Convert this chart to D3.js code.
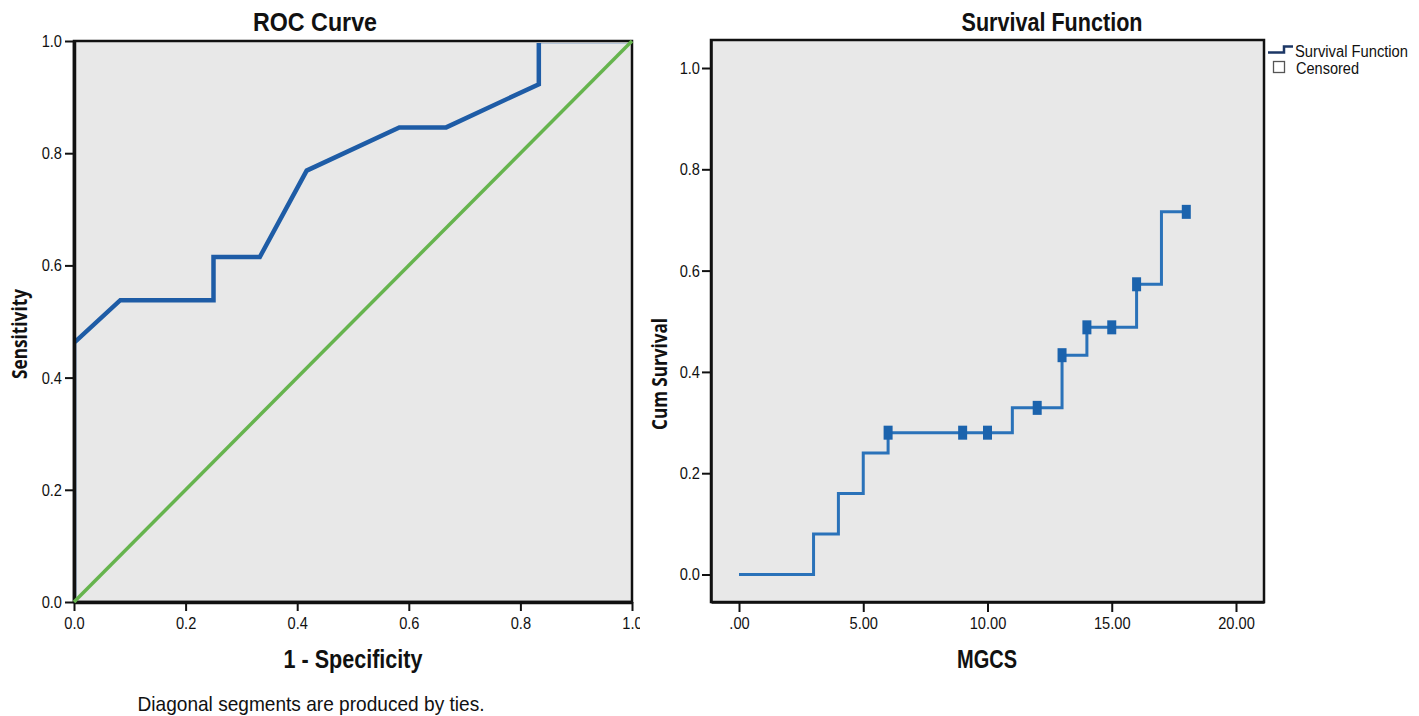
<!DOCTYPE html>
<html>
<head>
<meta charset="utf-8">
<script src="https://cdn.jsdelivr.net/npm/d3@7"></script>
<style>
  html, body { margin: 0; padding: 0; background: #fff; }
  svg { display: block; }
  .nar { font-family: "Liberation Sans Narrow", "Arial Narrow", "Liberation Sans", Arial, sans-serif; }
  .wide { font-family: "Open Sans", "Liberation Sans", Arial, sans-serif; }
</style>
</head>
<body>
<svg id="chart" width="1419" height="716"></svg>
<script>
// ---------- DATA ----------
// ROC curve
const rocFpr = [0, 0, 0.083, 0.25, 0.25, 0.333, 0.417, 0.583, 0.667, 0.833, 0.833, 1];
const rocTpr = [0, 0.462, 0.538, 0.538, 0.615, 0.615, 0.769, 0.846, 0.846, 0.923, 1, 1];
const rocRefX = [0, 1];
const rocRefY = [0, 1];
const rocTicks = [0, 0.2, 0.4, 0.6, 0.8, 1.0];

// Survival function (step) – MGCS
const survTime = [0, 3, 4, 5, 6, 11, 13, 14, 16, 17, 18];
const survCum  = [0, 0.08, 0.16, 0.24, 0.28, 0.329, 0.433, 0.488, 0.573, 0.716, 0.716];
const censTime = [6, 9, 10, 12, 13, 14, 15, 16, 18];
const censCum  = [0.28, 0.28, 0.28, 0.329, 0.433, 0.488, 0.488, 0.573, 0.716];
const survXTicks = [0, 5, 10, 15, 20];
const survXTickLabels = [".00", "5.00", "10.00", "15.00", "20.00"];
const survYTicks = [0, 0.2, 0.4, 0.6, 0.8, 1.0];
const legendLabels = ["Survival Function", "Censored"];

// ---------- HELPERS ----------
// horizontally condense real text to a target width (or a factor of its natural width)
function fitWidth(sel, width) {
  sel.attr("textLength", width).attr("lengthAdjust", "spacingAndGlyphs");
}
function condense(sel, factor) {
  sel.each(function () {
    const w = this.getComputedTextLength();
    d3.select(this).attr("textLength", w * factor).attr("lengthAdjust", "spacingAndGlyphs");
  });
}

// ---------- DRAW ----------
const svg = d3.select("#chart");
const plotBg = "#e8e8e8";
const defs = svg.append("defs");

// ===== ROC panel =====
defs.append("clipPath").attr("id", "leftClip")
  .append("rect").attr("x", 0).attr("y", 0).attr("width", 640).attr("height", 716);

const left = svg.append("g").attr("clip-path", "url(#leftClip)");
const rx = d3.scaleLinear().domain([0, 1]).range([74, 632]);
const ry = d3.scaleLinear().domain([0, 1]).range([602, 41]);

defs.append("clipPath").attr("id", "rocInner")
  .append("rect").attr("x", rx(0) + 2).attr("y", ry(1) + 2)
  .attr("width", rx(1) - rx(0) - 2).attr("height", ry(0) - ry(1) - 2);

left.append("rect").attr("x", rx(0)).attr("y", ry(1))
  .attr("width", rx(1) - rx(0)).attr("height", ry(0) - ry(1)).attr("fill", plotBg);

const rocLine = d3.line().x(d => rx(d[0])).y(d => ry(d[1]));
left.append("path").datum(rocFpr.map((v, i) => [v, rocTpr[i]]))
  .attr("clip-path", "url(#rocInner)")
  .attr("d", rocLine).attr("fill", "none").attr("stroke", "#1e5ca6")
  .attr("stroke-width", 4.5).attr("stroke-linejoin", "miter");

// frame (top/right)
left.append("rect").attr("x", rx(0)).attr("y", ry(1))
  .attr("width", rx(1) - rx(0)).attr("height", ry(0) - ry(1))
  .attr("fill", "none").attr("stroke", "#111").attr("stroke-width", 2.5);

const rxAxis = left.append("g").attr("transform", `translate(0,${ry(0)})`)
  .call(d3.axisBottom(rx).tickValues(rocTicks).tickFormat(d3.format(".1f")).tickSize(9).tickSizeOuter(0));
const ryAxis = left.append("g").attr("transform", `translate(${rx(0)},0)`)
  .call(d3.axisLeft(ry).tickValues(rocTicks).tickFormat(d3.format(".1f")).tickSize(9).tickSizeOuter(0));
[rxAxis, ryAxis].forEach(a => {
  a.select(".domain").attr("stroke", "#111").attr("stroke-width", 3.5);
  a.selectAll(".tick line").attr("stroke", "#111").attr("stroke-width", 2);
  a.selectAll("text").attr("class", "nar").attr("font-size", 17).attr("fill", "#111");
});
rxAxis.selectAll("text").attr("dy", "0.95em").attr("y", 11);
ryAxis.selectAll("text").attr("x", -12);
condense(rxAxis.selectAll("text"), 0.86);
condense(ryAxis.selectAll("text"), 0.86);

// diagonal reference on top
left.append("path").datum(rocRefX.map((v, i) => [v, rocRefY[i]]))
  .attr("d", rocLine).attr("fill", "none").attr("stroke", "#66b44e").attr("stroke-width", 3.5);

left.append("text").attr("class", "nar").attr("x", 315).attr("y", 31)
  .attr("text-anchor", "middle").attr("font-size", 25).attr("font-weight", "bold")
  .attr("fill", "#111").text("ROC Curve").call(fitWidth, 124);
left.append("text").attr("class", "nar").attr("x", 353).attr("y", 668)
  .attr("text-anchor", "middle").attr("font-size", 25).attr("font-weight", "bold")
  .attr("fill", "#111").text("1 - Specificity").call(fitWidth, 139);
left.append("text").attr("class", "wide").attr("transform", "translate(27,334) rotate(-90)")
  .attr("text-anchor", "middle").attr("font-size", 21).attr("font-weight", "bold")
  .attr("fill", "#111").text("Sensitivity").call(fitWidth, 90);
left.append("text").attr("class", "nar").attr("x", 311).attr("y", 711)
  .attr("text-anchor", "middle").attr("font-size", 21)
  .attr("fill", "#111").text("Diagonal segments are produced by ties.").call(fitWidth, 347);

// ===== Survival panel =====
const right = svg.append("g");
const sx = d3.scaleLinear().domain([-1.127, 21.127]).range([711, 1264]);
const sy = d3.scaleLinear().domain([-0.0543, 1.0553]).range([602, 40]);

right.append("rect").attr("x", sx.range()[0]).attr("y", sy.range()[1])
  .attr("width", sx.range()[1] - sx.range()[0]).attr("height", sy.range()[0] - sy.range()[1])
  .attr("fill", plotBg).attr("stroke", "#111").attr("stroke-width", 2.5);

const stepLine = d3.line().curve(d3.curveStepAfter).x(d => sx(d[0])).y(d => sy(d[1]));
right.append("path").datum(survTime.map((t, i) => [t, survCum[i]]))
  .attr("d", stepLine).attr("fill", "none").attr("stroke", "#2a72b9").attr("stroke-width", 3);

right.selectAll("rect.cens").data(censTime.map((t, i) => [t, censCum[i]]))
  .enter().append("rect").attr("class", "cens")
  .attr("x", d => sx(d[0]) - 4.5).attr("y", d => sy(d[1]) - 7)
  .attr("width", 9).attr("height", 14).attr("fill", "#1b63ad");

const sxAxis = right.append("g").attr("transform", `translate(0,${sy.range()[0]})`)
  .call(d3.axisBottom(sx).tickValues(survXTicks).tickFormat((d, i) => survXTickLabels[i]).tickSize(10).tickSizeOuter(0));
const syAxis = right.append("g").attr("transform", `translate(${sx.range()[0]},0)`)
  .call(d3.axisLeft(sy).tickValues(survYTicks).tickFormat(d3.format(".1f")).tickSize(9).tickSizeOuter(0));
[sxAxis, syAxis].forEach(a => {
  a.select(".domain").attr("stroke", "#111").attr("stroke-width", 2.5);
  a.selectAll(".tick line").attr("stroke", "#111").attr("stroke-width", 2);
  a.selectAll("text").attr("class", "nar").attr("font-size", 17).attr("fill", "#111");
});
sxAxis.selectAll("text").attr("dy", "0.95em").attr("y", 11);
syAxis.selectAll("text").attr("x", -11);
condense(sxAxis.selectAll("text"), 0.86);
condense(syAxis.selectAll("text"), 0.86);

right.append("text").attr("class", "nar").attr("x", 1052).attr("y", 31)
  .attr("text-anchor", "middle").attr("font-size", 25).attr("font-weight", "bold")
  .attr("fill", "#111").text("Survival Function").call(fitWidth, 181);
right.append("text").attr("class", "nar").attr("x", 987).attr("y", 668)
  .attr("text-anchor", "middle").attr("font-size", 25).attr("font-weight", "bold")
  .attr("fill", "#111").text("MGCS").call(fitWidth, 60);
right.append("text").attr("class", "wide").attr("transform", "translate(667,374) rotate(-90)")
  .attr("text-anchor", "middle").attr("font-size", 21).attr("font-weight", "bold")
  .attr("fill", "#111").text("Cum Survival").call(fitWidth, 112);

// legend
const lg = right.append("g");
lg.append("path").attr("d", "M1268,52.5 H1284 V46.5 H1293")
  .attr("fill", "none").attr("stroke", "#1c3766").attr("stroke-width", 2.5);
lg.append("text").attr("class", "nar").attr("x", 1295).attr("y", 57)
  .attr("font-size", 16).attr("fill", "#111").text(legendLabels[0]).call(fitWidth, 113);
lg.append("rect").attr("x", 1273.5).attr("y", 61.5).attr("width", 11).attr("height", 11)
  .attr("fill", "#fff").attr("stroke", "#555").attr("stroke-width", 1.3);
lg.append("text").attr("class", "nar").attr("x", 1296).attr("y", 74)
  .attr("font-size", 16).attr("fill", "#111").text(legendLabels[1]).call(fitWidth, 63);
</script>
</body>
</html>
